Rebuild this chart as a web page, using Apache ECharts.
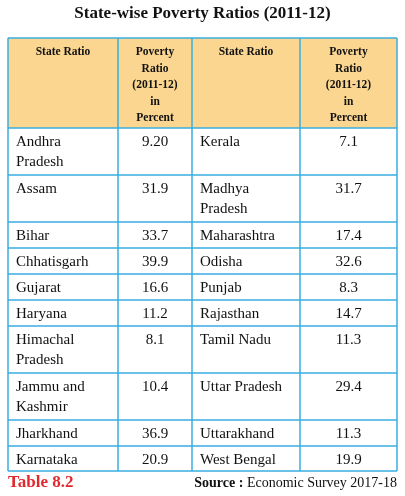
<!DOCTYPE html>
<html><head><meta charset="utf-8">
<script src="https://cdn.jsdelivr.net/npm/echarts@6/dist/echarts.min.js"></script>
<style>html,body{margin:0;padding:0;background:#fff}#c{width:405px;height:496px}</style>
</head><body><div id="c"></div>
<script>
const title = "State-wise Poverty Ratios (2011-12)";
const headers = ["State Ratio", "Poverty\nRatio\n(2011-12)\nin\nPercent", "State Ratio", "Poverty\nRatio\n(2011-12)\nin\nPercent"];
const statesLeft = ["Andhra\nPradesh","Assam","Bihar","Chhatisgarh","Gujarat","Haryana","Himachal\nPradesh","Jammu and\nKashmir","Jharkhand","Karnataka"];
const valuesLeft = ["9.20","31.9","33.7","39.9","16.6","11.2","8.1","10.4","36.9","20.9"];
const statesRight = ["Kerala","Madhya\nPradesh","Maharashtra","Odisha","Punjab","Rajasthan","Tamil Nadu","Uttar Pradesh","Uttarakhand","West Bengal"];
const valuesRight = ["7.1","31.7","17.4","32.6","8.3","14.7","11.3","29.4","11.3","19.9"];
const footLeft = "Table 8.2";
const footRight = "Economic Survey 2017-18";

(function(){
const colX = [8, 118, 192, 300, 397];
const rowH = [47,47,26,26,26,26,47,47,26,25];
const tableTop = 38, headH = 90;
const border = '#3aaee0';
const serif = '"Liberation Serif","DejaVu Serif",serif';
const g = [];
g.push({type:'text', left:'center', top:5, style:{text:title, font:'bold 17px '+serif, fill:'#111'}});
g.push({type:'rect', shape:{x:colX[0], y:tableTop, width:colX[4]-colX[0], height:headH}, style:{fill:'#fad690'}});
headers.forEach((h,i)=>{
  const cx=(colX[i]+colX[i+1])/2;
  g.push({type:'text', x:cx, y:tableTop+6, style:{text:h, font:'bold 11.5px '+serif, fill:'#111', align:'center', verticalAlign:'top', lineHeight:16.5}});
});
let y = tableTop+headH;
const ys=[tableTop, y];
rowH.forEach((h,r)=>{
  const rows=[[statesLeft[r],'l',0],[valuesLeft[r],'c',1],[statesRight[r],'l',2],[valuesRight[r],'c',3]];
  rows.forEach(([t,a,c])=>{
    g.push({type:'text', x: a==='l'? colX[c]+8 : (colX[c]+colX[c+1])/2, y:y+4,
      style:{text:t, font:'15px '+serif, fill:'#111', align:a==='l'?'left':'center', verticalAlign:'top', lineHeight:20}});
  });
  y+=h; ys.push(y);
});
ys.forEach(yy=>g.push({type:'line', shape:{x1:colX[0],y1:yy,x2:colX[4],y2:yy}, style:{stroke:border, lineWidth:1.5}}));
colX.forEach(xx=>g.push({type:'line', shape:{x1:xx,y1:tableTop,x2:xx,y2:y}, style:{stroke:border, lineWidth:1.5}}));
g.push({type:'text', x:8, y:474, style:{text:footLeft, font:'bold 17px '+serif, fill:'#e0282e'}});
g.push({type:'text', x:397, y:476, style:{text:'{b|Source :} '+footRight, align:'right', font:'14px '+serif, fill:'#111', rich:{b:{font:'bold 14px '+serif, fill:'#111'}}}});
const chart = echarts.init(document.getElementById('c'));
chart.setOption({animation:false, graphic:g});
})();
</script></body></html>
